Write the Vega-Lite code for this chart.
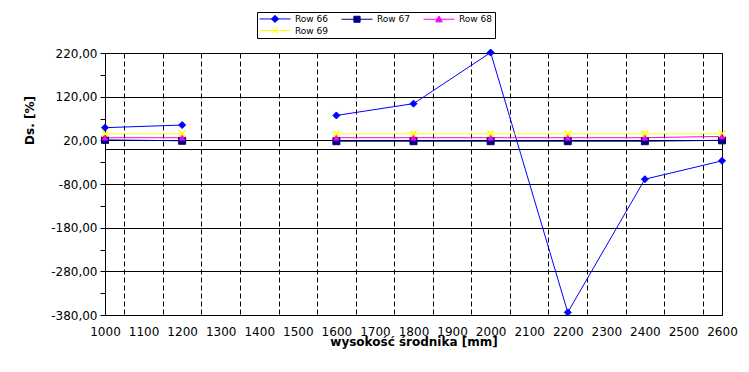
{
  "$schema": "https://vega.github.io/schema/vega-lite/v6.json",
  "width": 617,
  "height": 262,
  "autosize": "none",
  "padding": {"left": 105, "top": 53, "right": 27, "bottom": 57},
  "background": "white",
  "config": {
    "font": "DejaVu Sans",
    "view": {"stroke": "black", "strokeWidth": 1},
    "legend": {
      "orient": "none",
      "legendX": 152,
      "legendY": -41,
      "direction": "horizontal",
      "columns": 3,
      "symbolSize": 64,
      "symbolStrokeWidth": 1,
      "symbolOpacity": 1,
      "labelFontSize": 9,
      "labelColor": "black",
      "labelOffset": 27,
      "columnPadding": 10,
      "rowPadding": 0,
      "padding": 2,
      "strokeColor": "black",
      "fillColor": "white"
    }
  },
  "datasets": {
    "main": [
      {"x": 1000, "series": "Row 66", "y": 49},
      {"x": 1200, "series": "Row 66", "y": 55},
      {"x": 1400, "series": "Row 66", "y": null},
      {"x": 1600, "series": "Row 66", "y": 77},
      {"x": 1800, "series": "Row 66", "y": 104},
      {"x": 2000, "series": "Row 66", "y": 221},
      {"x": 2200, "series": "Row 66", "y": -374},
      {"x": 2400, "series": "Row 66", "y": -69},
      {"x": 2600, "series": "Row 66", "y": -27},
      {"x": 1000, "series": "Row 67", "y": 21},
      {"x": 1200, "series": "Row 67", "y": 19},
      {"x": 1400, "series": "Row 67", "y": null},
      {"x": 1600, "series": "Row 67", "y": 18},
      {"x": 1800, "series": "Row 67", "y": 18},
      {"x": 2000, "series": "Row 67", "y": 18},
      {"x": 2200, "series": "Row 67", "y": 18},
      {"x": 2400, "series": "Row 67", "y": 18},
      {"x": 2600, "series": "Row 67", "y": 20},
      {"x": 1000, "series": "Row 68", "y": 26},
      {"x": 1200, "series": "Row 68", "y": 26},
      {"x": 1400, "series": "Row 68", "y": null},
      {"x": 1600, "series": "Row 68", "y": 26},
      {"x": 1800, "series": "Row 68", "y": 26},
      {"x": 2000, "series": "Row 68", "y": 26},
      {"x": 2200, "series": "Row 68", "y": 26},
      {"x": 2400, "series": "Row 68", "y": 26},
      {"x": 2600, "series": "Row 68", "y": 29},
      {"x": 1000, "series": "Row 69", "y": 35},
      {"x": 1200, "series": "Row 69", "y": 35},
      {"x": 1400, "series": "Row 69", "y": null},
      {"x": 1600, "series": "Row 69", "y": 35},
      {"x": 1800, "series": "Row 69", "y": 35},
      {"x": 2000, "series": "Row 69", "y": 35},
      {"x": 2200, "series": "Row 69", "y": 35},
      {"x": 2400, "series": "Row 69", "y": 35},
      {"x": 2600, "series": "Row 69", "y": 35}
    ],
    "xticks": [
      {"x": 1000}, {"x": 1100}, {"x": 1200}, {"x": 1300}, {"x": 1400}, {"x": 1500},
      {"x": 1600}, {"x": 1700}, {"x": 1800}, {"x": 1900}, {"x": 2000}, {"x": 2100},
      {"x": 2200}, {"x": 2300}, {"x": 2400}, {"x": 2500}, {"x": 2600}
    ]
  },
  "encoding": {
    "x": {
      "field": "x", "type": "quantitative",
      "scale": {"domain": [1000, 2600], "nice": false, "zero": false},
      "axis": {
        "values": [1000,1050,1100,1150,1200,1250,1300,1350,1400,1450,1500,1550,1600,1650,1700,1750,1800,1850,1900,1950,2000,2050,2100,2150,2200,2250,2300,2350,2400,2450,2500,2550,2600],
        "labelExpr": "datum.value % 100 == 0 ? '' + datum.value : ''",
        "labelOverlap": false,
        "labelFlush": false,
        "grid": true,
        "gridColor": "black",
        "gridWidth": 1,
        "gridDash": [5, 3],
        "gridOpacity": {"condition": {"test": "datum.value % 100 == 50", "value": 1}, "value": 0},
        "ticks": false,
        "tickSize": 0,
        "labelPadding": 11,
        "labelFontSize": 12,
        "labelColor": "black",
        "domainColor": "black",
        "title": "wysokość środnika [mm]",
        "titleFontSize": 12,
        "titleFontWeight": "bold",
        "titleColor": "black",
        "titleBaseline": "alphabetic",
        "titleY": 30
      }
    },
    "y": {
      "field": "y", "type": "quantitative",
      "scale": {"domain": [-380, 220], "nice": false, "zero": false},
      "axis": {
        "values": [-380,-330,-280,-230,-180,-130,-80,-30,0,20,70,120,170,220],
        "labelExpr": "(datum.value + 380) % 100 == 0 ? (datum.value < 0 ? '-' : '') + replace(format(abs(datum.value), '.2f'), '.', ',') : ''",
        "labelOverlap": false,
        "labelFlush": false,
        "grid": true,
        "gridColor": "black",
        "gridWidth": 1,
        "gridOpacity": {"condition": {"test": "(datum.value + 380) % 100 == 0 || datum.value == 0", "value": 1}, "value": 0},
        "tickColor": "black",
        "tickSize": 5,
        "tickOpacity": {"condition": {"test": "datum.value == 0", "value": 0}, "value": 1},
        "labelPadding": 3,
        "labelFontSize": 12,
        "labelColor": "black",
        "domainColor": "black",
        "title": "Ds. [%]",
        "titleFontSize": 12,
        "titleFontWeight": "bold",
        "titleColor": "black",
        "titleAngle": -90,
        "titleAlign": "center",
        "titleBaseline": "middle",
        "titleX": -76,
        "titleY": 67
      }
    }
  },
  "layer": [
    {
      "data": {"name": "main"},
      "mark": {"type": "point", "filled": true, "opacity": 0},
      "encoding": {
        "color": {
          "field": "series", "type": "nominal", "title": null,
          "scale": {"domain": ["Row 66", "Row 67", "Row 68", "Row 69"], "range": ["#0000ff", "#000080", "#ff00ff", "#ffff00"]}
        },
        "stroke": {
          "field": "series", "type": "nominal", "title": null,
          "scale": {"domain": ["Row 66", "Row 67", "Row 68", "Row 69"], "range": ["#0000ff", "#000080", "#ff00ff", "#ffff00"]}
        },
        "shape": {
          "field": "series", "type": "nominal", "title": null,
          "scale": {
            "domain": ["Row 66", "Row 67", "Row 68", "Row 69"],
            "range": [
              "M-1,0L6.75,0M2.875,-0.9L3.775,0L2.875,0.9L1.975,0Z",
              "M-1,0L6.75,0M2.1,-0.75L3.65,-0.75L3.65,0.75L2.1,0.75Z",
              "M-1,0L6.75,0M2.875,-0.8L3.7,0.65L2.05,0.65Z",
              "M-1,0L6.75,0M2.1,-0.8L3.65,0.8M2.1,0.8L3.65,-0.8"
            ]
          }
        }
      }
    },
    {
      "data": {"name": "xticks"},
      "mark": {"type": "rule", "color": "black", "strokeWidth": 1},
      "encoding": {
        "y": {"datum": 0, "type": "quantitative"},
        "y2": {"datum": -12}
      }
    },
    {
      "data": {"name": "main"},
      "transform": [{"filter": "datum.series === 'Row 66'"}],
      "mark": {"type": "line", "strokeWidth": 1, "color": "#0000ff", "invalid": "break-paths-filter-domains"},
      "encoding": {"order": {"field": "x", "type": "quantitative"}}
    },
    {
      "data": {"name": "main"},
      "transform": [{"filter": "datum.series === 'Row 67'"}],
      "mark": {"type": "line", "strokeWidth": 1, "color": "#000080", "invalid": "break-paths-filter-domains"},
      "encoding": {"order": {"field": "x", "type": "quantitative"}}
    },
    {
      "data": {"name": "main"},
      "transform": [{"filter": "datum.series === 'Row 68'"}],
      "mark": {"type": "line", "strokeWidth": 1, "color": "#ff00ff", "invalid": "break-paths-filter-domains"},
      "encoding": {"order": {"field": "x", "type": "quantitative"}}
    },
    {
      "data": {"name": "main"},
      "transform": [{"filter": "datum.series === 'Row 69'"}],
      "mark": {"type": "line", "strokeWidth": 1, "color": "#ffff00", "invalid": "break-paths-filter-domains"},
      "encoding": {"order": {"field": "x", "type": "quantitative"}}
    },
    {
      "data": {"name": "main"},
      "transform": [{"filter": "datum.series === 'Row 66'"}],
      "mark": {"type": "point", "filled": true, "opacity": 1, "shape": "diamond", "size": 49, "fill": "#0000ff", "stroke": "#0000ff", "strokeWidth": 1}
    },
    {
      "data": {"name": "main"},
      "transform": [{"filter": "datum.series === 'Row 67'"}],
      "mark": {"type": "point", "filled": true, "opacity": 1, "shape": "square", "size": 49, "fill": "#000080", "stroke": "#000080", "strokeWidth": 1}
    },
    {
      "data": {"name": "main"},
      "transform": [{"filter": "datum.series === 'Row 69'"}],
      "mark": {"type": "point", "filled": false, "opacity": 1, "shape": "M-1,-1L1,1M-1,1L1,-1", "size": 42, "stroke": "#ffff00", "strokeWidth": 1.5}
    },
    {
      "data": {"name": "main"},
      "transform": [{"filter": "datum.series === 'Row 68'"}],
      "mark": {"type": "point", "filled": true, "opacity": 1, "shape": "triangle-up", "size": 30, "fill": "#ff00ff", "stroke": "#ff00ff", "strokeWidth": 1}
    }
  ]
}
